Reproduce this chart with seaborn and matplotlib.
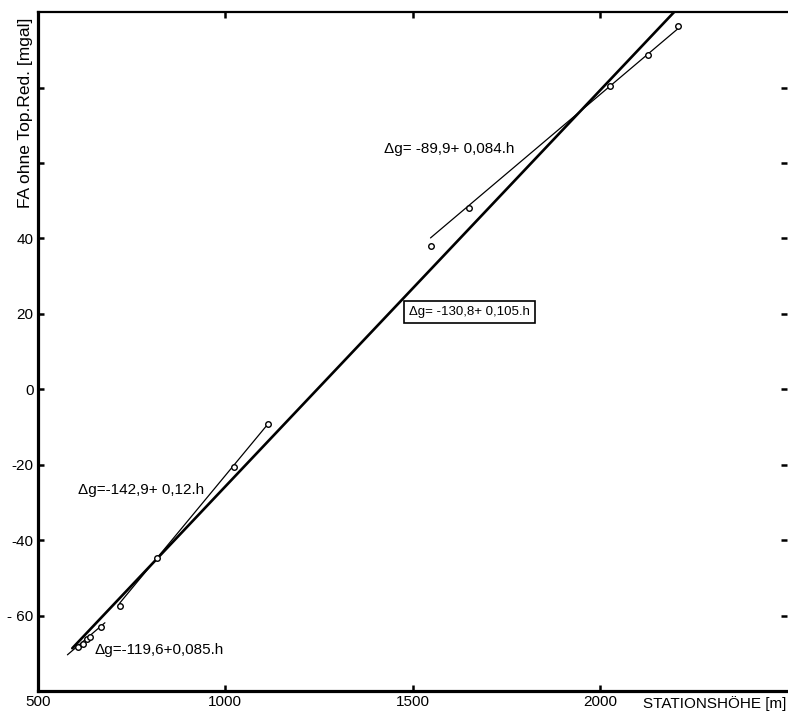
import numpy as np
import pandas as pd
import seaborn as sns
from matplotlib import pyplot as plt

# --- values ---
# station heights [m] and free-air anomaly without topo reduction [mgal]
h_low = [607, 620, 630, 638, 669]
g_low = [-68.4, -67.4, -66.3, -65.6, -63.1]

h_mid = [720, 817, 1023, 1114]
g_mid = [-57.5, -44.6, -20.6, -9.3]

h_high = [1548, 1652, 2028, 2129, 2208]
g_high = [37.9, 48.1, 80.4, 88.7, 96.2]

# regression lines: (intercept, slope, h_start, h_end, label)
fits = [
    (-119.6, 0.085, 579, 679, "Δg=-119,6+0,085.h"),
    (-142.9, 0.12, 718, 1114, "Δg=-142,9+ 0,12.h"),
    (-89.9, 0.084, 1548, 2208, "Δg= -89,9+ 0,084.h"),
]
main_fit = (-130.8, 0.105, 592, 2250, "Δg= -130,8+ 0,105.h")

x_ticks = [500, 1000, 1500, 2000]
x_ticklabels = ["500", "1000", "1500", "2000"]
y_ticks = [80, 60, 40, 20, 0, -20, -40, -60]
y_ticklabels = ["", "", "40", "20", "0", "-20", "-40", "- 60"]

sns.set_style("ticks")
plt.rcParams['font.family'] = ['Liberation Sans', 'DejaVu Sans']
plt.rcParams['font.size'] = 11
plt.rcParams['text.color'] = 'black'
plt.rcParams['axes.edgecolor'] = 'black'
plt.rcParams['xtick.color'] = 'black'
plt.rcParams['ytick.color'] = 'black'

fig = plt.figure(figsize=(7.88, 7.11), dpi=100)
ax = fig.add_axes([0.048, 0.028, 0.951, 0.955])

points = pd.DataFrame({
    "h": h_low + h_mid + h_high,
    "g": g_low + g_mid + g_high,
})

# thin regression segments
for a, b, h0, h1, lab in fits:
    hh = np.array([h0, h1])
    sns.lineplot(x=hh, y=a + b * hh, ax=ax, color="black", linewidth=0.9)

# main regression line
a, b, h0, h1, lab = main_fit
hh = np.array([h0, h1])
sns.lineplot(x=hh, y=a + b * hh, ax=ax, color="black", linewidth=1.9)

sns.scatterplot(data=points, x="h", y="g", ax=ax, marker="o", s=16,
                facecolor="white", edgecolor="black", linewidth=1.0, zorder=5)

# equation labels
ax.text(1425, 63.7, fits[2][4], fontsize=11, va="center", ha="left")
ax.text(606, -26.8, fits[1][4], fontsize=11, va="center", ha="left")
ax.text(651, -69.1, fits[0][4], fontsize=11, va="center", ha="left")
ax.text(1652, 20.5, main_fit[4], fontsize=9.5, va="center", ha="center",
        bbox=dict(boxstyle="square,pad=0.35", facecolor="white",
                  edgecolor="black", linewidth=1.2))

ax.set_xlim(500, 2500)
ax.set_ylim(-80, 100)
ax.set_xticks(x_ticks)
ax.set_xticklabels(x_ticklabels)
ax.set_yticks(y_ticks)
ax.set_yticklabels(y_ticklabels)
ax.tick_params(direction="in", length=4, width=1.8, pad=3,
               top=True, right=True, labelsize=11)

for side in ["left", "bottom"]:
    ax.spines[side].set_linewidth(2.3)
ax.spines["top"].set_linewidth(1.6)
ax.spines["right"].set_visible(False)

ax.set_xlabel("")
ax.set_ylabel("")
ax.text(-0.017, 0.992, "FA ohne Top.Red. [mgal]", transform=ax.transAxes,
        rotation=90, ha="center", va="top", fontsize=12.5)
ax.text(0.999, -0.018, "STATIONSHÖHE [m]", transform=ax.transAxes,
        ha="right", va="center", fontsize=11)

fig.savefig("out.png", dpi=100)
